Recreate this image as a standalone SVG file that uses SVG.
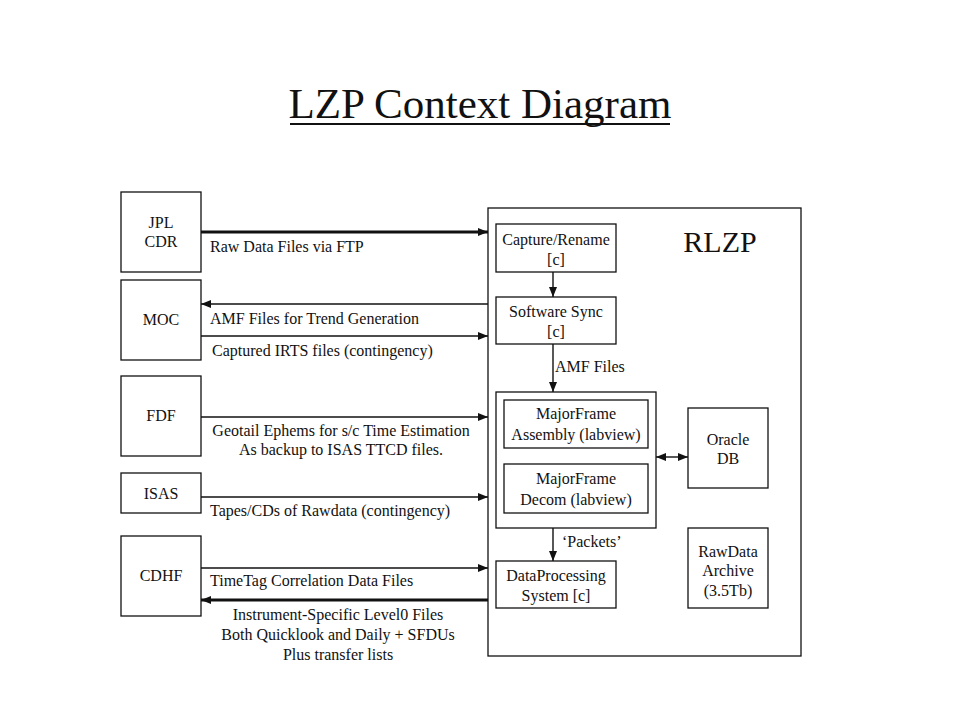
<svg xmlns="http://www.w3.org/2000/svg" width="960" height="720" viewBox="0 0 960 720">
<style>
text{font-family:"Liberation Serif","Times New Roman",serif;fill:#111}
.b{fill:#fff;stroke:#111;stroke-width:1.3}
.t{font-size:16px;text-anchor:middle}
.l{font-size:16px}
.c{stroke:#111;stroke-width:1.4;fill:none}
.k{stroke:#111;stroke-width:3.2;fill:none}
</style>
<defs>
<marker id="ah" viewBox="0 0 10 8" refX="10" refY="4" markerWidth="10" markerHeight="8" markerUnits="userSpaceOnUse" orient="auto-start-reverse"><path d="M0,0L10,4L0,8z" fill="#111"/></marker>
</defs>
<rect width="960" height="720" fill="#fff"/>
<g id="title">
<text x="480" y="118" font-size="43" text-anchor="middle">LZP Context Diagram</text>
<line x1="290" y1="124" x2="670" y2="124" stroke="#111" stroke-width="2"/>
</g>
<g id="rlzp">
<rect class="b" x="488" y="208" width="313" height="448"/>
<text x="720" y="252" font-size="30" text-anchor="middle">RLZP</text>
</g>
<g id="jpl"><rect class="b" x="121" y="192" width="80" height="80"/><text class="t" x="161" y="228">JPL</text><text class="t" x="161" y="247">CDR</text></g>
<g id="moc"><rect class="b" x="121" y="280" width="80" height="80"/><text class="t" x="161" y="325">MOC</text></g>
<g id="fdf"><rect class="b" x="121" y="376" width="80" height="80"/><text class="t" x="161" y="421">FDF</text></g>
<g id="isas"><rect class="b" x="121" y="473" width="80" height="40"/><text class="t" x="161" y="499">ISAS</text></g>
<g id="cdhf"><rect class="b" x="121" y="536" width="80" height="80"/><text class="t" x="161" y="581">CDHF</text></g>
<g id="capture"><rect class="b" x="496" y="224" width="120" height="48"/><text class="t" x="556" y="245">Capture/Rename</text><text class="t" x="556" y="265">[c]</text></g>
<g id="sync"><rect class="b" x="496" y="297" width="120" height="47"/><text class="t" x="556" y="317">Software Sync</text><text class="t" x="556" y="337">[c]</text></g>
<g id="majorframe"><rect class="b" x="496" y="392" width="160" height="136"/></g>
<g id="assembly"><rect class="b" x="504" y="400" width="144" height="48"/><text class="t" x="576" y="419">MajorFrame</text><text class="t" x="576" y="440">Assembly (labview)</text></g>
<g id="decom"><rect class="b" x="504" y="464" width="144" height="49"/><text class="t" x="576" y="484">MajorFrame</text><text class="t" x="576" y="505">Decom (labview)</text></g>
<g id="oracle"><rect class="b" x="688" y="408" width="80" height="80"/><text class="t" x="728" y="445">Oracle</text><text class="t" x="728" y="464">DB</text></g>
<g id="archive"><rect class="b" x="688" y="528" width="80" height="80"/><text class="t" x="728" y="557">RawData</text><text class="t" x="728" y="576">Archive</text><text class="t" x="728" y="596">(3.5Tb)</text></g>
<g id="dps"><rect class="b" x="496" y="561" width="120" height="47"/><text class="t" x="556" y="581">DataProcessing</text><text class="t" x="556" y="601">System  [c]</text></g>
<g id="connectors">
<line class="k" x1="201" y1="232" x2="488" y2="232" marker-end="url(#ah)"/>
<line class="c" x1="488" y1="304" x2="201" y2="304" marker-end="url(#ah)"/>
<line class="c" x1="201" y1="336" x2="488" y2="336" marker-end="url(#ah)"/>
<line class="c" x1="201" y1="417" x2="488" y2="417" marker-end="url(#ah)"/>
<line class="c" x1="201" y1="497" x2="488" y2="497" marker-end="url(#ah)"/>
<line class="c" x1="201" y1="568" x2="488" y2="568" marker-end="url(#ah)"/>
<line class="k" x1="488" y1="600" x2="201" y2="600" marker-end="url(#ah)"/>
<line class="c" x1="553" y1="272" x2="553" y2="297" marker-end="url(#ah)"/>
<line class="c" x1="553" y1="344" x2="553" y2="392" marker-end="url(#ah)"/>
<line class="c" x1="553" y1="528" x2="553" y2="561" marker-end="url(#ah)"/>
<line class="c" x1="656" y1="457" x2="688" y2="457" marker-start="url(#ah)" marker-end="url(#ah)"/>
</g>
<g id="labels">
<text class="l" x="210" y="252">Raw Data Files via FTP</text>
<text class="l" x="210" y="324">AMF Files  for Trend  Generation</text>
<text class="l" x="212" y="356">Captured IRTS files (contingency)</text>
<text class="t" x="341" y="436">Geotail Ephems for s/c Time  Estimation</text>
<text class="t" x="341" y="455">As backup to ISAS TTCD  files.</text>
<text class="l" x="210" y="516">Tapes/CDs  of Rawdata (contingency)</text>
<text class="l" x="210" y="586">TimeTag  Correlation  Data Files</text>
<text class="t" x="338" y="620">Instrument-Specific Level0 Files</text>
<text class="t" x="338" y="640">Both Quicklook and Daily + SFDUs</text>
<text class="t" x="338" y="660">Plus transfer lists</text>
<text class="l" x="555" y="372">AMF Files</text>
<text class="l" x="562" y="547">‘Packets’</text>
</g>
</svg>
